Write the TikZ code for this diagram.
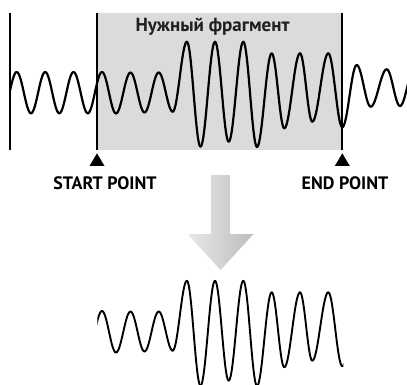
\documentclass[tikz,border=0pt]{standalone}
\usepackage{fontspec}
\setmainfont{PT Sans}
\usepackage{tikz}
\usetikzlibrary{calc}

% wave through its peaks and troughs (cosine between two extrema)
\newcommand{\onda}[1]{%
  \foreach \x/\y [remember=\x as \xa (initially 2.5),
                  remember=\y as \ya (initially 113.3)] in
    {16.7/72, 31/113.3, 45.2/72, 59.3/113.3, 73.5/72, 87.8/113.3,
     102/72, 116/113.5, 130.5/72.5, 144.5/112.5, 158.7/72.5, 172.7/111.7,
     186.9/41.7, 200.5/146.7, 215/41.7, 228.7/141.7, 243.3/41.7, 257/147,
     271.7/53.3, 284.3/128.3, 300/53.3, 312.3/121.7, 328.3/53.3, 342.3/127.3,
     356.7/65, 370.7/106.7, 386.7/69.3, 400/106, 414/70}
    {\draw[#1] plot[variable=\t, domain=0:1, samples=16]
       ({\xa+(\x-\xa)*\t}, {\ya+(\y-\ya)*(1-cos(180*\t))/2});}%
}

\begin{document}
\begin{tikzpicture}[x=1pt, y=-1pt]

\tikzset{
  barra/.style={line width=2.2pt},
  senal/.style={line width=2.2pt, line cap=round, line join=round},
  marca/.style={fill=black},
  rotulo/.style={font=\fontsize{18}{20}\selectfont\bfseries, anchor=base,
    inner sep=0pt},
  flecha/.style={left color=black!9, right color=black!26, draw=none}
}

\useasboundingbox (0,0) rectangle (407,385);

% ---- SELECTED FRAGMENT ----
\fill[black!14] (97,13.3) rectangle (342.3,150.5);
\node (titulo) [font=\fontsize{19}{21}\selectfont\bfseries, anchor=base,
  inner sep=0pt, text=black!88] at (212.5,31.7) {Нужный фрагмент};

% ---- ORIGINAL SIGNAL ----
\begin{scope}
  \clip (10,0) rectangle (407,200);
  \onda{senal}
\end{scope}

\draw[barra] (10,13.3)    -- (10,150.5);
\draw[barra] (97,13.3)    -- (97,150.5);
\draw[barra] (342.3,13.3) -- (342.3,150.5);

% ---- MARKERS ----
\fill[marca] (97,153.3)    -- ++(7.5,12.7) -- ++(-15,0) -- cycle;
\fill[marca] (342.3,153.3) -- ++(7.5,12.7) -- ++(-15,0) -- cycle;
\node (startlbl) [rotulo] at (105,189.3) {START POINT};
\node (endlbl)   [rotulo] at (345,189.3) {END POINT};

% ---- BIG ARROW ----
\shade[flecha] (211,175) -- (230,175) -- (230,234) -- (253.5,234)
  -- (220.5,270) -- (187.5,234) -- (211,234) -- cycle;

% ---- CUT SIGNAL ----
\begin{scope}
  \clip (97.3,250) rectangle (343.3,385);
  \begin{scope}[shift={(0,239)}]
    \onda{senal, line width=1.9pt}
  \end{scope}
\end{scope}

\end{tikzpicture}
\end{document}
